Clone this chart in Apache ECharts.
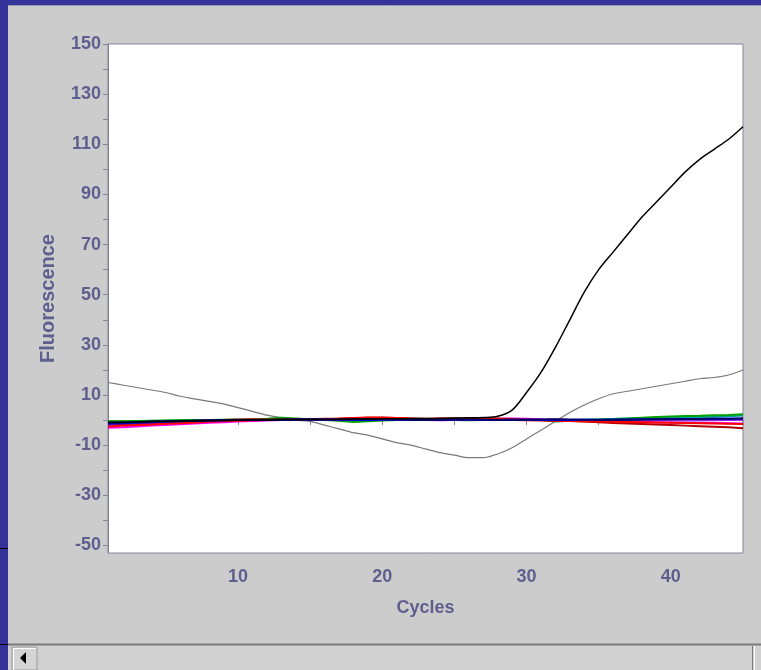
<!DOCTYPE html>
<html>
<head>
<meta charset="utf-8">
<script src="https://cdn.jsdelivr.net/npm/echarts@6/dist/echarts.min.js"></script>
<style>
  html, body { margin: 0; padding: 0; background: #333399; }
  #chart { width: 761px; height: 670px; }
</style>
</head>
<body>
<div id="chart"></div>
<script>
// cycle numbers (x)
const cycles = [1,2,3,4,5,6,7,8,9,10,11,12,13,14,15,16,17,18,19,20,21,22,23,24,25,26,27,28,29,30,31,32,33,34,35,36,37,38,39,40,41,42,43,44,45]

// amplified sample
const ampBlack = [-1,-0.9,-0.8,-0.6,-0.5,-0.4,-0.3,-0.2,-0.1,0,0,0,0.1,0.1,0.2,0.2,0.3,0.4,0.4,0.5,0.5,0.6,0.6,0.7,0.8,0.9,1.0,1.5,4,11,19,29,40,51,60,67,74,81,87,93,99,104,108,112,117]
// drifting baseline sample
const driftGray = [15,14,13,12,11,9.5,8.5,7.5,6.5,5,3.5,2,1,0,-0.5,-2,-3.5,-5,-6,-7.5,-9,-10,-11.5,-13,-14,-15,-15,-13.5,-11,-7.5,-4,-0.5,3,6,8.5,10.5,11.5,12.5,13.5,14.5,15.5,16.5,17,18,20]
// flat (negative) samples
const flatNavy = [-1,-1,-0.8,-0.6,-0.5,-0.4,-0.3,-0.2,-0.1,0,0,0,0.2,0.3,0.3,0.2,0.2,0.3,0.4,0.3,0.2,0.1,0,0.1,0.2,0.2,0.1,0,0,0.1,0.2,0.3,0.2,0.1,0,0,0.1,0.2,0.3,0.3,0.4,0.4,0.5,0.5,0.6]
const flatBlue = [-1.5,-1.3,-1.1,-0.9,-0.7,-0.5,-0.3,-0.2,-0.1,0,0,0,0,0.1,0.1,0.2,0.1,0,0,0.1,0.1,0,0,0.1,0.2,0.1,0,0,0.1,0.1,0,0,0,0.1,0.1,0.2,0.2,0.3,0.3,0.4,0.4,0.4,0.5,0.5,0.6]
const flatRed = [-2.5,-2.2,-2,-1.8,-1.5,-1.3,-1,-0.7,-0.5,-0.3,-0.1,0,0.1,0.2,0.3,0.5,0.6,0.8,1,0.9,0.8,0.6,0.5,0.6,0.7,0.5,0.4,0.2,0,-0.1,-0.2,-0.3,-0.4,-0.5,-0.6,-0.7,-0.8,-0.9,-1,-1.1,-1.2,-1.3,-1.4,-1.5,-1.6]
const flatDarkRed = [-1.5,-1.5,-1.3,-1,-0.8,-0.6,-0.4,-0.2,0,0.2,0.3,0.2,0.1,0,0.1,0.3,0.5,0.7,0.9,1,0.8,0.6,0.4,0.3,0.2,0.3,0.5,0.6,0.4,0.2,0,-0.2,-0.4,-0.6,-0.9,-1.2,-1.4,-1.6,-1.8,-2,-2.2,-2.4,-2.6,-2.8,-3.2]
const flatMagenta = [-3,-2.8,-2.5,-2.2,-2,-1.7,-1.4,-1.1,-0.9,-0.6,-0.4,-0.2,0,0.1,0.2,0.2,0.1,0,0.2,0.4,0.3,0.2,0.1,0,0.1,0.2,0.3,0.5,0.6,0.5,0.3,0.2,0,-0.2,-0.4,-0.6,-0.7,-0.8,-0.9,-1,-1.1,-1.2,-1.2,-1.3,-1.4]
const flatGreen = [-0.5,-0.5,-0.4,-0.3,-0.2,-0.1,0,0,0.1,0.1,0.2,0.5,0.9,0.6,0.3,0.1,-0.3,-0.8,-0.5,-0.2,0,0.2,0.3,0.1,0,-0.1,0,0.2,0.3,0.4,0,-0.6,-0.3,0,0.2,0.4,0.6,0.9,1.2,1.4,1.6,1.7,1.9,2.0,2.3]
const flatTeal = [-1,-0.8,-0.6,-0.4,-0.3,-0.2,-0.1,0,0,0.1,0.1,0,0,0,0.1,0.2,0.1,0,-0.1,0,0.1,0.2,0.1,0,0,0.1,0.2,0.1,0,0.1,0.2,0.1,0,0.1,0.2,0.4,0.6,0.7,0.9,1.0,1.1,1.2,1.3,1.5,1.8]
const flatPurple = [-2,-1.8,-1.6,-1.3,-1.1,-0.9,-0.7,-0.5,-0.3,-0.2,-0.1,0,0,0.1,0.1,0,-0.1,0,0.1,0.2,0.2,0.1,0,-0.1,0,0.1,0.2,0.3,0.2,0.1,0,-0.1,-0.2,-0.1,0,0.1,0.2,0.1,0,-0.1,-0.2,-0.2,-0.1,0,0.1]

// axis ticks and labels
const yLabels = [-50,-30,-10,10,30,50,70,90,110,130,150]
const yTicks = [-50,-40,-30,-20,-10,0,10,20,30,40,50,60,70,80,90,100,110,120,130,140,150]
const xLabels = [10,20,30,40]
const xTicks = [10,15,20,25,30,35,40,45]

const textColor = '#5f5f8f'
const axisColor = '#85859a'
const font = '"Liberation Sans", Arial, sans-serif'

function pairs(values) {
  return cycles.map((c, i) => [c, values[i]])
}

function line(name, values, color, width, smooth) {
  return {
    name: name,
    type: 'line',
    data: pairs(values),
    showSymbol: false,
    smooth: smooth || false,
    lineStyle: { color: color, width: width },
    itemStyle: { color: color },
    animation: false
  }
}

const chart = echarts.init(document.getElementById('chart'))

chart.setOption({
  backgroundColor: '#333399',
  animation: false,
  graphic: [
    { type: 'rect', z: -10, shape: { x: 8, y: 5, width: 753, height: 665 }, style: { fill: '#cccccc' } },
    { type: 'line', z: -9, shape: { x1: 8, y1: 5.5, x2: 761, y2: 5.5 }, style: { stroke: '#9a9aa8', lineWidth: 1 } },
    { type: 'line', z: -9, shape: { x1: 0, y1: 548.5, x2: 8, y2: 548.5 }, style: { stroke: '#000', lineWidth: 1 } },
    { type: 'line', z: -9, shape: { x1: 0, y1: 644.5, x2: 8, y2: 644.5 }, style: { stroke: '#000', lineWidth: 1 } },
    // scroll bar
    { type: 'rect', z: -9, shape: { x: 8, y: 644, width: 753, height: 26 }, style: { fill: '#d0d0d0' } },
    { type: 'line', z: -8, shape: { x1: 8, y1: 644.5, x2: 761, y2: 644.5 }, style: { stroke: '#7a7a7a', lineWidth: 2 } },
    { type: 'rect', z: -8, shape: { x: 12, y: 647, width: 25, height: 23 }, style: { fill: '#d4d4d4', stroke: '#9a9a9a', lineWidth: 1 } },
    { type: 'line', z: -7, shape: { x1: 13, y1: 648.5, x2: 36, y2: 648.5 }, style: { stroke: '#ffffff', lineWidth: 1 } },
    { type: 'line', z: -7, shape: { x1: 13.5, y1: 648, x2: 13.5, y2: 670 }, style: { stroke: '#ffffff', lineWidth: 1 } },
    { type: 'polygon', z: -7, shape: { points: [[20, 658], [26, 652], [26, 664]] }, style: { fill: '#000' } },
    { type: 'line', z: -8, shape: { x1: 752.5, y1: 646, x2: 752.5, y2: 670 }, style: { stroke: '#7a7a7a', lineWidth: 1 } },
    { type: 'line', z: -8, shape: { x1: 754.5, y1: 646, x2: 754.5, y2: 670 }, style: { stroke: '#ffffff', lineWidth: 1 } }
  ],
  grid: {
    left: 108,
    top: 44,
    width: 635,
    height: 509,
    show: true,
    backgroundColor: '#ffffff',
    borderColor: axisColor,
    borderWidth: 1
  },
  xAxis: {
    type: 'value',
    min: 1,
    max: 45,
    name: 'Cycles',
    nameLocation: 'middle',
    nameGap: 46,
    nameTextStyle: { color: textColor, fontSize: 18, fontWeight: 'bold', fontFamily: font },
    splitLine: { show: false },
    axisLine: { lineStyle: { color: axisColor } },
    axisTick: { customValues: xTicks, length: 5, lineStyle: { color: axisColor } },
    axisLabel: { customValues: xLabels, color: textColor, fontSize: 18, fontWeight: 'bold', fontFamily: font, margin: 15 }
  },
  yAxis: {
    type: 'value',
    min: -53,
    max: 150,
    name: 'Fluorescence',
    nameLocation: 'middle',
    nameGap: 50,
    nameTextStyle: { color: textColor, fontSize: 20, fontWeight: 'bold', fontFamily: font },
    splitLine: { show: false },
    axisLine: { show: true, lineStyle: { color: axisColor } },
    axisTick: { customValues: yTicks, length: 5, lineStyle: { color: axisColor } },
    axisLabel: { customValues: yLabels, color: textColor, fontSize: 18, fontWeight: 'bold', fontFamily: font, margin: 7 }
  },
  series: [
    line('gray', driftGray, '#7a7a7a', 1.2, 0.3),
    line('purple', flatPurple, '#8a2be2', 2),
    line('teal', flatTeal, '#00a0a0', 2),
    line('green', flatGreen, '#00a000', 2),
    line('magenta', flatMagenta, '#ff00ff', 2),
    line('darkred', flatDarkRed, '#b00000', 2),
    line('red', flatRed, '#ff0000', 2),
    line('blue', flatBlue, '#0000ff', 2),
    line('navy', flatNavy, '#000066', 2),
    line('black', ampBlack, '#000000', 1.5, 0.3)
  ]
})
</script>
</body>
</html>
